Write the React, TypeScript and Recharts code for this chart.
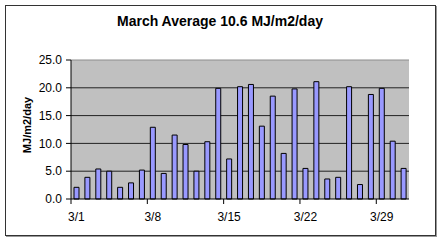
import type React from 'react'
import {
  Bar,
  BarChart,
  CartesianGrid,
  ReferenceLine,
  XAxis,
  YAxis
} from 'recharts'

const DIAS = [
  '3/1', '3/2', '3/3', '3/4', '3/5', '3/6', '3/7', '3/8', '3/9', '3/10',
  '3/11', '3/12', '3/13', '3/14', '3/15', '3/16', '3/17', '3/18', '3/19', '3/20',
  '3/21', '3/22', '3/23', '3/24', '3/25', '3/26', '3/27', '3/28', '3/29', '3/30', '3/31'
]

const RADIACAO = [
  2.1, 3.9, 5.4, 5.0, 2.1, 2.9, 5.2, 12.9, 4.6, 11.5,
  9.8, 5.0, 10.3, 19.9, 7.2, 20.2, 20.6, 13.1, 18.5, 8.2,
  19.8, 5.5, 21.1, 3.6, 3.9, 20.2, 2.6, 18.8, 19.9, 10.4, 5.5
]

const TICKS_Y = [0, 5, 10, 15, 20, 25]
const LINHAS_GRADE = [5, 10, 15, 20]

const TITULO = 'March Average 10.6 MJ/m2/day'
const ROTULO_Y = 'MJ/m2/day'

const FONTE = '"Liberation Sans", Arial, sans-serif'

const LARGURA = 440
const ALTURA = 240
const MARGEM = { top: 60, right: 31, left: 21, bottom: 11 }
const LARGURA_EIXO_Y = 50
const LARGURA_PLOT = LARGURA - MARGEM.left - MARGEM.right - LARGURA_EIXO_Y

const TAM_TICK = 5
const MARGEM_TICK = 8

const dados = DIAS.map((dia, i) => ({ dia, valor: RADIACAO[i] }))

type TickProps = { x?: number; y?: number; payload?: { value: string } }

function TickData({ x = 0, y = 0, payload }: TickProps): React.JSX.Element {
  // Excel põe a marca na divisa entre categorias, não no centro
  const passo = LARGURA_PLOT / dados.length
  const yEixo = y - TAM_TICK - MARGEM_TICK
  const xMarca = x - passo / 2
  return (
    <g>
      <line x1={xMarca} y1={yEixo} x2={xMarca} y2={yEixo + TAM_TICK} stroke="#000" />
      <text x={x} y={y} dy="0.71em" textAnchor="middle" fontSize={12} fill="#000" fontFamily={FONTE}>
        {payload?.value}
      </text>
    </g>
  )
}

export default function App(): React.JSX.Element {
  return (
    <div
      style={{
        position: 'absolute',
        left: 0,
        top: 0,
        width: LARGURA,
        height: ALTURA,
        background: '#fff',
        fontFamily: FONTE
      }}
    >
      <div
        style={{
          position: 'absolute',
          left: 5,
          top: 5,
          width: 429,
          height: 229,
          border: '1px solid #333',
          boxShadow: '1px 1px 0 #999'
        }}
      />
      <div
        style={{
          position: 'absolute',
          left: 0,
          top: 13,
          width: LARGURA,
          textAlign: 'center',
          fontSize: 14,
          fontWeight: 'bold',
          color: '#000'
        }}
      >
        {TITULO}
      </div>
      <div
        style={{
          position: 'absolute',
          left: 27,
          top: 125,
          transform: 'translate(-50%, -50%) rotate(-90deg)',
          fontSize: 11,
          fontWeight: 'bold',
          whiteSpace: 'nowrap',
          color: '#000'
        }}
      >
        {ROTULO_Y}
      </div>
      <div style={{ position: 'absolute', left: 0, top: 0 }}>
        <BarChart width={LARGURA} height={ALTURA} data={dados} margin={MARGEM} barCategoryGap="54%">
          <CartesianGrid
            fill="#c0c0c0"
            stroke="#222"
            vertical={false}
            horizontalValues={LINHAS_GRADE}
          />
          <ReferenceLine y={25} stroke="#8c8c8c" />
          <XAxis
            dataKey="dia"
            interval={6}
            tickLine={false}
            tickSize={TAM_TICK}
            tickMargin={MARGEM_TICK}
            tick={<TickData />}
            axisLine={{ stroke: '#000' }}
            height={30}
          />
          <YAxis
            domain={[0, 25]}
            ticks={TICKS_Y}
            width={LARGURA_EIXO_Y}
            tickSize={TAM_TICK}
            tickMargin={4}
            tickFormatter={(v: number) => v.toFixed(1)}
            tick={{ fill: '#000', fontSize: 12, fontFamily: FONTE }}
            tickLine={{ stroke: '#000' }}
            axisLine={{ stroke: '#000' }}
          />
          <YAxis
            yAxisId="borda"
            orientation="right"
            width={0}
            tick={false}
            tickLine={false}
            axisLine={{ stroke: '#8c8c8c' }}
          />
          <Bar dataKey="valor" fill="#9999ff" stroke="#000" strokeWidth={1} barSize={5} isAnimationActive={false} />
        </BarChart>
      </div>
    </div>
  )
}
